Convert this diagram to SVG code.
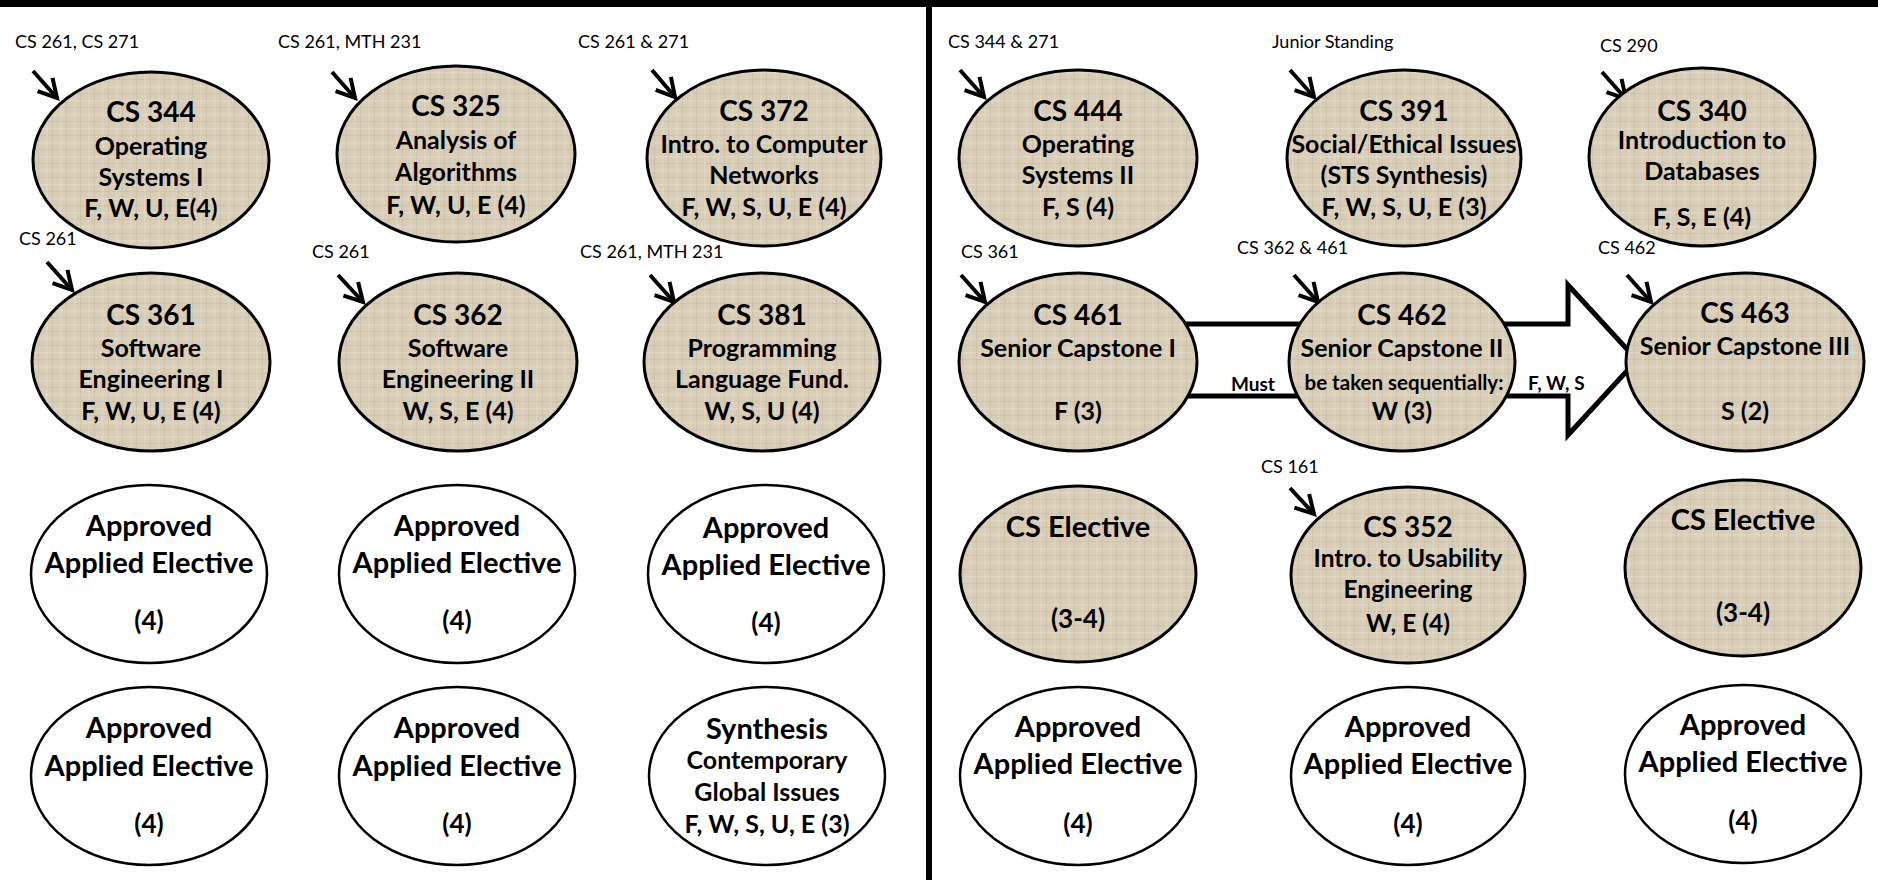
<svg xmlns="http://www.w3.org/2000/svg" width="1878" height="880" viewBox="0 0 1878 880">
<style>
.bg{fill:#ffffff}
.tex{fill:url(#burlap);stroke:#000;stroke-width:3}
.wht{fill:#ffffff;stroke:#000;stroke-width:2.5}
text{font-family:Lato,"Open Sans","Liberation Sans",sans-serif;fill:#000;text-anchor:middle}
.t{font-size:28px;font-weight:bold}
.b{font-size:25px;font-weight:bold}
.bs{font-size:24.5px;font-weight:bold}
.big{font-size:29px;font-weight:bold}
.num{font-size:26px;font-weight:bold}
.syn{font-size:25px;font-weight:bold}
.seq{font-size:20.5px;font-weight:bold}
.lbl{font-size:18px;font-weight:normal;text-anchor:start}
.cl{font-size:19px;font-weight:bold;text-anchor:start}
.pre{stroke:#000;stroke-width:4;fill:none;marker-end:url(#v)}
.band{fill:#fff;stroke:#000;stroke-width:5;stroke-linejoin:miter}
</style>
<defs>
<pattern id="burlap" width="14" height="14" patternUnits="userSpaceOnUse">
<rect width="14" height="14" fill="#d8cdb7"/>
<rect x="0" y="2" width="14" height="1.5" fill="#e5dccc" opacity="0.6"/>
<rect x="0" y="9" width="14" height="1" fill="#c6b9a2" opacity="0.5"/>
<rect x="4" y="0" width="1.5" height="14" fill="#e5dccc" opacity="0.5"/>
<rect x="10" y="0" width="1" height="14" fill="#c4b7a0" opacity="0.5"/>
</pattern>
<marker id="v" markerUnits="userSpaceOnUse" markerWidth="30" markerHeight="30" viewBox="-22 -15 26 30" refX="0" refY="0" orient="auto">
<path d="M-18,-10 L0,0 L-18,10" fill="none" stroke="#000" stroke-width="4" stroke-linejoin="miter"/>
</marker>
</defs>
<rect class="bg" x="0" y="0" width="1878" height="880"/>
<rect x="0" y="0" width="1878" height="7" fill="#000"/>
<rect x="926" y="0" width="6" height="880" fill="#000"/>

<g id="connectors">
<path class="band" d="M1150,324 L1568,324 L1568,285 L1637,360 L1568,435 L1568,396 L1150,396 Z"/>
<text class="cl" x="1231" y="391">Must</text>
<text class="cl" x="1528" y="390">F, W, S</text>
<line class="pre" x1="33" y1="71" x2="57" y2="98"/>
<line class="pre" x1="332" y1="72" x2="355" y2="98"/>
<line class="pre" x1="652" y1="70" x2="675" y2="97"/>
<line class="pre" x1="960" y1="70" x2="984" y2="97"/>
<line class="pre" x1="1290" y1="70" x2="1314" y2="97"/>
<line class="pre" x1="1602" y1="72" x2="1626" y2="99"/>
<line class="pre" x1="47" y1="262" x2="72" y2="290"/>
<line class="pre" x1="338" y1="275" x2="363" y2="302"/>
<line class="pre" x1="650" y1="275" x2="674" y2="302"/>
<line class="pre" x1="961" y1="275" x2="985" y2="302"/>
<line class="pre" x1="1294" y1="275" x2="1318" y2="302"/>
<line class="pre" x1="1627" y1="275" x2="1651" y2="302"/>
<line class="pre" x1="1290" y1="488" x2="1314" y2="514"/>
</g>

<g id="labels">
<text class="lbl" x="15" y="48">CS 261, CS 271</text>
<text class="lbl" x="278" y="48">CS 261, MTH 231</text>
<text class="lbl" x="578" y="48">CS 261 &amp; 271</text>
<text class="lbl" x="948" y="48">CS 344 &amp; 271</text>
<text class="lbl" x="1272" y="48">Junior Standing</text>
<text class="lbl" x="1600" y="52">CS 290</text>
<text class="lbl" x="19" y="245">CS 261</text>
<text class="lbl" x="312" y="258">CS 261</text>
<text class="lbl" x="580" y="258">CS 261, MTH 231</text>
<text class="lbl" x="961" y="258">CS 361</text>
<text class="lbl" x="1237" y="254">CS 362 &amp; 461</text>
<text class="lbl" x="1598" y="254">CS 462</text>
<text class="lbl" x="1261" y="473">CS 161</text>
</g>

<g id="cs344">
<ellipse class="tex" cx="151" cy="160" rx="118" ry="88"/>
<text class="t" x="151" y="122">CS 344</text>
<text class="b" x="151" y="155">Operating</text>
<text class="b" x="151" y="186">Systems I</text>
<text class="b" x="151" y="217">F, W, U, E(4)</text>
</g>
<g id="cs325">
<ellipse class="tex" cx="456" cy="154" rx="119" ry="88"/>
<text class="t" x="456" y="116">CS 325</text>
<text class="b" x="456" y="149">Analysis of</text>
<text class="b" x="456" y="181">Algorithms</text>
<text class="b" x="456" y="214">F, W, U, E (4)</text>
</g>
<g id="cs372">
<ellipse class="tex" cx="764" cy="158" rx="117" ry="88"/>
<text class="t" x="764" y="121">CS 372</text>
<text class="b" x="764" y="153">Intro. to Computer</text>
<text class="b" x="764" y="184">Networks</text>
<text class="b" x="764" y="216">F, W, S, U, E (4)</text>
</g>
<g id="cs444">
<ellipse class="tex" cx="1078" cy="158" rx="119" ry="88"/>
<text class="t" x="1078" y="121">CS 444</text>
<text class="b" x="1078" y="153">Operating</text>
<text class="b" x="1078" y="184">Systems II</text>
<text class="b" x="1078" y="216">F, S (4)</text>
</g>
<g id="cs391">
<ellipse class="tex" cx="1404" cy="158" rx="117" ry="88"/>
<text class="t" x="1404" y="121">CS 391</text>
<text class="b" x="1404" y="153">Social/Ethical Issues</text>
<text class="b" x="1404" y="184">(STS Synthesis)</text>
<text class="b" x="1404" y="216">F, W, S, U, E (3)</text>
</g>
<g id="cs340">
<ellipse class="tex" cx="1702" cy="157" rx="113" ry="89"/>
<text class="t" x="1702" y="121">CS 340</text>
<text class="b" x="1702" y="149">Introduction to</text>
<text class="b" x="1702" y="180">Databases</text>
<text class="b" x="1702" y="226">F, S, E (4)</text>
</g>

<g id="cs361">
<ellipse class="tex" cx="151" cy="362" rx="119" ry="89"/>
<text class="t" x="151" y="325">CS 361</text>
<text class="b" x="151" y="357">Software</text>
<text class="b" x="151" y="388">Engineering I</text>
<text class="b" x="151" y="420">F, W, U, E (4)</text>
</g>
<g id="cs362">
<ellipse class="tex" cx="458" cy="362" rx="119" ry="89"/>
<text class="t" x="458" y="325">CS 362</text>
<text class="b" x="458" y="357">Software</text>
<text class="b" x="458" y="388">Engineering II</text>
<text class="b" x="458" y="420">W, S, E (4)</text>
</g>
<g id="cs381">
<ellipse class="tex" cx="762" cy="362" rx="118" ry="89"/>
<text class="t" x="762" y="325">CS 381</text>
<text class="b" x="762" y="357">Programming</text>
<text class="b" x="762" y="388">Language Fund.</text>
<text class="b" x="762" y="420">W, S, U (4)</text>
</g>
<g id="cs461">
<ellipse class="tex" cx="1078" cy="362" rx="119" ry="89"/>
<text class="t" x="1078" y="325">CS 461</text>
<text class="b" x="1078" y="357">Senior Capstone I</text>
<text class="b" x="1078" y="420">F (3)</text>
</g>
<g id="cs462">
<ellipse class="tex" cx="1402" cy="362" rx="113" ry="89"/>
<text class="t" x="1402" y="325">CS 462</text>
<text class="b" x="1402" y="357">Senior Capstone II</text>
<text class="seq" x="1404" y="390">be taken sequentially:</text>
<text class="b" x="1402" y="420">W (3)</text>
</g>
<g id="cs463">
<ellipse class="tex" cx="1745" cy="362" rx="119" ry="89"/>
<text class="t" x="1745" y="323">CS 463</text>
<text class="b" x="1745" y="355">Senior Capstone III</text>
<text class="b" x="1745" y="420">S (2)</text>
</g>

<g id="elective-l1">
<ellipse class="wht" cx="149" cy="574" rx="118" ry="89"/>
<text class="big" x="149" y="536">Approved</text>
<text class="big" x="149" y="573">Applied Elective</text>
<text class="num" x="149" y="630">(4)</text>
</g>
<g id="elective-l2">
<ellipse class="wht" cx="457" cy="574" rx="118" ry="89"/>
<text class="big" x="457" y="536">Approved</text>
<text class="big" x="457" y="573">Applied Elective</text>
<text class="num" x="457" y="630">(4)</text>
</g>
<g id="elective-l3">
<ellipse class="wht" cx="766" cy="574" rx="118" ry="89"/>
<text class="big" x="766" y="538">Approved</text>
<text class="big" x="766" y="575">Applied Elective</text>
<text class="num" x="766" y="632">(4)</text>
</g>
<g id="cs-elective-r1">
<ellipse class="tex" cx="1078" cy="574" rx="118" ry="88"/>
<text class="big" x="1078" y="537">CS Elective</text>
<text class="num" x="1078" y="628">(3-4)</text>
</g>
<g id="cs352">
<ellipse class="tex" cx="1408" cy="575" rx="117" ry="88"/>
<text class="t" x="1408" y="537">CS 352</text>
<text class="bs" x="1408" y="567">Intro. to Usability</text>
<text class="bs" x="1408" y="598">Engineering</text>
<text class="bs" x="1408" y="632">W, E (4)</text>
</g>
<g id="cs-elective-r2">
<ellipse class="tex" cx="1743" cy="568" rx="118" ry="88"/>
<text class="big" x="1743" y="530">CS Elective</text>
<text class="num" x="1743" y="622">(3-4)</text>
</g>

<g id="elective-l4">
<ellipse class="wht" cx="149" cy="776" rx="118" ry="89"/>
<text class="big" x="149" y="738">Approved</text>
<text class="big" x="149" y="776">Applied Elective</text>
<text class="num" x="149" y="833">(4)</text>
</g>
<g id="elective-l5">
<ellipse class="wht" cx="457" cy="776" rx="118" ry="89"/>
<text class="big" x="457" y="738">Approved</text>
<text class="big" x="457" y="776">Applied Elective</text>
<text class="num" x="457" y="833">(4)</text>
</g>
<g id="synthesis">
<ellipse class="wht" cx="767" cy="776" rx="118" ry="89"/>
<text class="big" x="767" y="739">Synthesis</text>
<text class="syn" x="767" y="769">Contemporary</text>
<text class="syn" x="767" y="801">Global Issues</text>
<text class="syn" x="767" y="833">F, W, S, U, E (3)</text>
</g>
<g id="elective-r3">
<ellipse class="wht" cx="1078" cy="776" rx="118" ry="89"/>
<text class="big" x="1078" y="737">Approved</text>
<text class="big" x="1078" y="774">Applied Elective</text>
<text class="num" x="1078" y="833">(4)</text>
</g>
<g id="elective-r4">
<ellipse class="wht" cx="1408" cy="776" rx="117" ry="89"/>
<text class="big" x="1408" y="737">Approved</text>
<text class="big" x="1408" y="774">Applied Elective</text>
<text class="num" x="1408" y="833">(4)</text>
</g>
<g id="elective-r5">
<ellipse class="wht" cx="1743" cy="774" rx="118" ry="89"/>
<text class="big" x="1743" y="735">Approved</text>
<text class="big" x="1743" y="772">Applied Elective</text>
<text class="num" x="1743" y="830">(4)</text>
</g>
</svg>
